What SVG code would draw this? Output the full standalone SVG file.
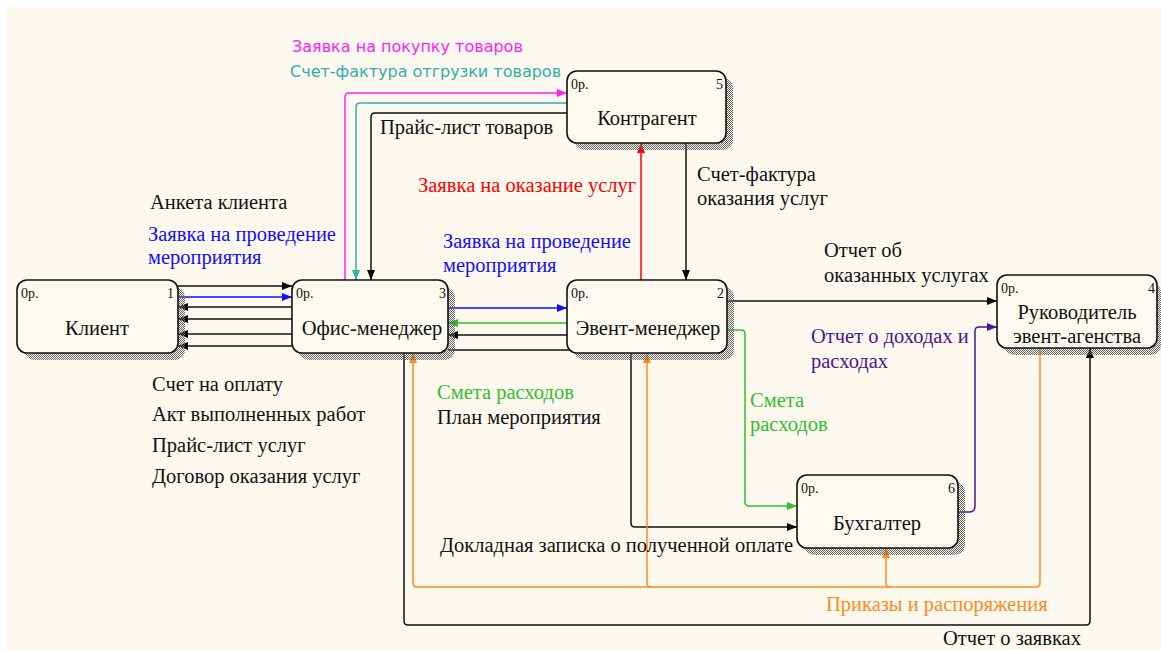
<svg xmlns="http://www.w3.org/2000/svg" width="1161" height="650" viewBox="0 0 1161 650">
<defs>
<pattern id="hatch" width="2" height="2" patternUnits="userSpaceOnUse">
<rect x="0" y="0" width="1" height="1" fill="#666"/>
<rect x="1" y="1" width="1" height="1" fill="#666"/>
</pattern>
<marker id="aK" viewBox="0 0 10 8" refX="10" refY="4" markerWidth="11" markerHeight="8" markerUnits="userSpaceOnUse" orient="auto"><path d="M0,0 L10,4 L0,8 Z" fill="#000"/></marker>
<marker id="aB" viewBox="0 0 10 8" refX="10" refY="4" markerWidth="11" markerHeight="8" markerUnits="userSpaceOnUse" orient="auto"><path d="M0,0 L10,4 L0,8 Z" fill="#1010ff"/></marker>
<marker id="aG" viewBox="0 0 10 8" refX="10" refY="4" markerWidth="11" markerHeight="8" markerUnits="userSpaceOnUse" orient="auto"><path d="M0,0 L10,4 L0,8 Z" fill="#2ec02e"/></marker>
<marker id="aR" viewBox="0 0 10 8" refX="10" refY="4" markerWidth="11" markerHeight="8" markerUnits="userSpaceOnUse" orient="auto"><path d="M0,0 L10,4 L0,8 Z" fill="#ff0000"/></marker>
<marker id="aM" viewBox="0 0 10 8" refX="10" refY="4" markerWidth="11" markerHeight="8" markerUnits="userSpaceOnUse" orient="auto"><path d="M0,0 L10,4 L0,8 Z" fill="#ff22ff"/></marker>
<marker id="aT" viewBox="0 0 10 8" refX="10" refY="4" markerWidth="11" markerHeight="8" markerUnits="userSpaceOnUse" orient="auto"><path d="M0,0 L10,4 L0,8 Z" fill="#2fb0b0"/></marker>
<marker id="aP" viewBox="0 0 10 8" refX="10" refY="4" markerWidth="11" markerHeight="8" markerUnits="userSpaceOnUse" orient="auto"><path d="M0,0 L10,4 L0,8 Z" fill="#4a1590"/></marker>
<marker id="aO" viewBox="0 0 10 8" refX="10" refY="4" markerWidth="11" markerHeight="8" markerUnits="userSpaceOnUse" orient="auto"><path d="M0,0 L10,4 L0,8 Z" fill="#ff8a1c"/></marker>
</defs>
<style>
.box{fill:#fefaf0;stroke:#111;stroke-width:1.6}
.sh{fill:url(#hatch)}
.nm{font-family:"Liberation Serif",serif;font-size:20.5px;fill:#111;text-anchor:middle}
.tg{font-family:"Liberation Serif",serif;font-size:14px;fill:#111}
.num{font-family:"Liberation Serif",serif;font-size:14px;fill:#111;text-anchor:end}
.lb{font-family:"Liberation Serif",serif;font-size:20.5px}
.ls{font-family:"DejaVu Sans",sans-serif;font-size:16px}
.fk{fill:#111}
.fb{fill:#1010ff}
.fg{fill:#2ec02e}
.fr{fill:#ff0000}
.fm{fill:#ff22ff}
.ft{fill:#2fb0b0}
.fp{fill:#4a1590}
.fo{fill:#ff8a1c}
.c{fill:none;stroke-width:1.5}
.k{stroke:#111}
.b{stroke:#1010ff}
.g{stroke:#2ec02e}
.r{stroke:#ff0000}
.m{stroke:#ff22ff}
.t{stroke:#2fb0b0}
.p{stroke:#4a1590}
.o{stroke:#ff8a1c}
</style>
<rect x="0" y="0" width="1161" height="650" fill="#fff"/>
<rect x="7" y="7" width="1154" height="643" fill="#fef9ef"/>

<g id="connectors">
<path class="c k" d="M178,286 H292" marker-end="url(#aK)"/>
<path class="c b" d="M178,297 H292" marker-end="url(#aB)"/>
<path class="c k" d="M292,307 H178" marker-end="url(#aK)"/>
<path class="c k" d="M292,319 H178" marker-end="url(#aK)"/>
<path class="c k" d="M292,334 H178" marker-end="url(#aK)"/>
<path class="c k" d="M292,346 H178" marker-end="url(#aK)"/>
<path class="c b" d="M448,308 H567" marker-end="url(#aB)"/>
<path class="c g" d="M567,323 H448" marker-end="url(#aG)"/>
<path class="c k" d="M567,335 H448" marker-end="url(#aK)"/>
<path class="c k" d="M448,350 H627 Q631,350 631,354 V523 Q631,527 635,527 H797" marker-end="url(#aK)"/>
<path class="c g" d="M727,330 H741 Q745,330 745,334 V502 Q745,506 749,506 H797" marker-end="url(#aG)"/>
<path class="c k" d="M727,301 H997" marker-end="url(#aK)"/>
<path class="c p" d="M958,512 H969 Q975,512 975,506 V331 Q975,327 979,327 H997" marker-end="url(#aP)"/>
<path class="c r" d="M641,280 V143" marker-end="url(#aR)"/>
<path class="c k" d="M686,143 V280" marker-end="url(#aK)"/>
<path class="c m" d="M345,280 V97 Q345,93 349,93 H567" marker-end="url(#aM)"/>
<path class="c t" d="M567,103 H360 Q356,103 356,107 V280" marker-end="url(#aT)"/>
<path class="c k" d="M567,113 H375 Q371,113 371,117 V280" marker-end="url(#aK)"/>
<path class="c o" d="M1040,348 V583 Q1040,587 1036,587 H417 Q413,587 413,583 V353" marker-end="url(#aO)"/>
<path class="c o" d="M651,587 Q647,587 647,583 V353" marker-end="url(#aO)"/>
<path class="c o" d="M890,587 Q886,587 886,583 V548" marker-end="url(#aO)"/>
<path class="c k" d="M404,353 V621 Q404,625 408,625 H1086 Q1090,625 1090,621 V348" marker-end="url(#aK)"/>
</g>

<g id="node-klient">
<rect class="sh" x="24" y="287" width="161" height="73" rx="10"/>
<rect class="box" x="17" y="280" width="161" height="73" rx="10"/>
<text class="tg" x="21" y="298">0р.</text>
<text class="num" x="174" y="298">1</text>
<text class="nm" x="97" y="335">Клиент</text>
</g>

<g id="node-ofis">
<rect class="sh" x="299" y="287" width="156" height="73" rx="10"/>
<rect class="box" x="292" y="280" width="156" height="73" rx="10"/>
<text class="tg" x="296" y="298">0р.</text>
<text class="num" x="446" y="298">3</text>
<text class="nm" x="372" y="335">Офис-менеджер</text>
</g>

<g id="node-event">
<rect class="sh" x="574" y="287" width="160" height="73" rx="10"/>
<rect class="box" x="567" y="280" width="160" height="73" rx="10"/>
<text class="tg" x="571" y="298">0р.</text>
<text class="num" x="724" y="298">2</text>
<text class="nm" x="648" y="335">Эвент-менеджер</text>
</g>

<g id="node-kontragent">
<rect class="sh" x="574" y="78" width="159" height="72" rx="10"/>
<rect class="box" x="567" y="71" width="159" height="72" rx="10"/>
<text class="tg" x="571" y="89">0р.</text>
<text class="num" x="723" y="89">5</text>
<text class="nm" x="647" y="125">Контрагент</text>
</g>

<g id="node-rukovoditel">
<rect class="sh" x="1004" y="282" width="157" height="73" rx="10"/>
<rect class="box" x="997" y="275" width="160" height="73" rx="10"/>
<text class="tg" x="1001" y="293">0р.</text>
<text class="num" x="1155" y="293">4</text>
<text class="nm" x="1077" y="319">Руководитель</text>
<text class="nm" x="1077" y="343">эвент-агенства</text>
</g>

<g id="node-buhgalter">
<rect class="sh" x="804" y="482" width="161" height="73" rx="10"/>
<rect class="box" x="797" y="475" width="161" height="73" rx="10"/>
<text class="tg" x="801" y="493">0р.</text>
<text class="num" x="955" y="493">6</text>
<text class="nm" x="877" y="530">Бухгалтер</text>
</g>

<g id="labels">
<text class="ls fm" x="292" y="52">Заявка на покупку товаров</text>
<text class="ls ft" x="290" y="77">Счет-фактура отгрузки товаров</text>
<text class="lb fk" x="380" y="134">Прайс-лист товаров</text>
<text class="lb fr" x="418" y="192">Заявка на оказание услуг</text>
<text class="lb fk" x="697" y="181">Счет-фактура</text>
<text class="lb fk" x="697" y="205">оказания услуг</text>
<text class="lb fk" x="150" y="209">Анкета клиента</text>
<text class="lb fb" x="148" y="241">Заявка на проведение</text>
<text class="lb fb" x="148" y="264">мероприятия</text>
<text class="lb fb" x="443" y="248">Заявка на проведение</text>
<text class="lb fb" x="443" y="272">мероприятия</text>
<text class="lb fk" x="824" y="257">Отчет об</text>
<text class="lb fk" x="824" y="282">оказанных услугах</text>
<text class="lb fp" x="811" y="343">Отчет о доходах и</text>
<text class="lb fp" x="811" y="368">расходах</text>
<text class="lb fk" x="152" y="391">Счет на оплату</text>
<text class="lb fk" x="152" y="421">Акт выполненных работ</text>
<text class="lb fk" x="152" y="452">Прайс-лист услуг</text>
<text class="lb fk" x="152" y="483">Договор оказания услуг</text>
<text class="lb fg" x="437" y="399">Смета расходов</text>
<text class="lb fk" x="437" y="424">План мероприятия</text>
<text class="lb fg" x="750" y="407">Смета</text>
<text class="lb fg" x="750" y="431">расходов</text>
<text class="lb fk" x="440" y="552">Докладная записка о полученной оплате</text>
<text class="lb fo" x="826" y="611">Приказы и распоряжения</text>
<text class="lb fk" x="943" y="645">Отчет о заявках</text>
</g>
</svg>
